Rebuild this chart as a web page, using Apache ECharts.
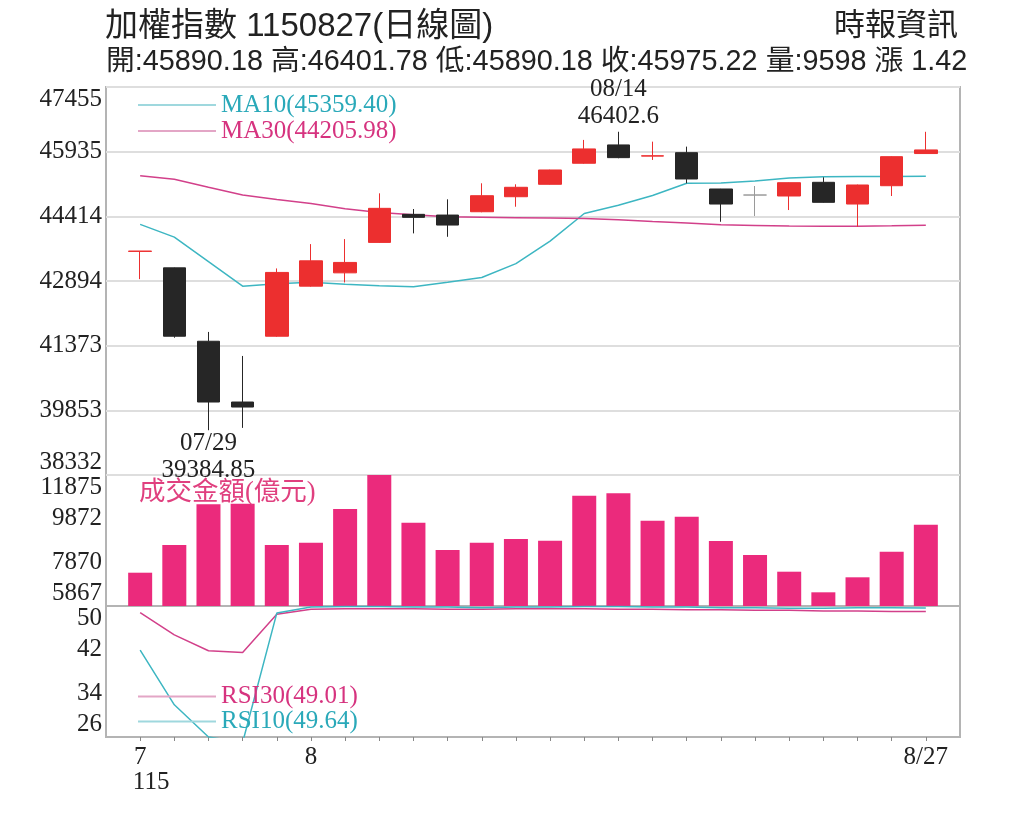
<!DOCTYPE html>
<html>
<head>
<meta charset="utf-8">
<script src="https://cdn.jsdelivr.net/npm/echarts@6/dist/echarts.min.js"></script>
<style>
    html, body { margin: 0; padding: 0; background: #fff; }
    #main { width: 1024px; height: 820px; }
</style>
</head>
<body>
<div id="main"></div>
<script>
// 日期 (115年 7/27 ~ 8/27)
const dates = ['07/27', '07/28', '07/29', '07/30', '07/31',
    '08/03', '08/04', '08/05', '08/06', '08/07',
    '08/10', '08/11', '08/12', '08/13', '08/14',
    '08/17', '08/18', '08/19', '08/20', '08/21',
    '08/24', '08/25', '08/26', '08/27'];

const opens = [43590, 43203, 41477, 40048, 41595, 42772, 43085, 43801, 44461, 44444,
    44522, 44875, 45167, 45662, 46093, 45830, 45911, 45057, 44915, 44892,
    45214, 44703, 45134, 45890.18];
const closes = [43597, 41595, 40048, 39930, 43095, 43368, 43330, 44602, 44390, 44209,
    44899, 45097, 45504, 45999, 45794, 45838, 45292, 44703, 44915, 45205,
    44743, 45151, 45817, 45975.22];
const lows = [42937, 41560, 39384.85, 39440, 41580, 42760, 42859, 43790, 44013, 43933,
    44510, 44640, 45160, 45650, 45780, 45740, 45191, 44287, 44421, 44562,
    44735, 44169, 44892, 45890.18];
const highs = [43597, 43210, 41696, 41131, 43189, 43761, 43879, 44955, 44586, 44814,
    45191, 45167, 45510, 46211, 46402.6, 46170, 46053, 45060, 45127, 45210,
    45332, 45160, 45825, 46401.78];

const ma10 = [44225, 43926, 43349, 42772, 42831, 42866, 42819, 42784, 42760, 42866,
    42977, 43302, 43832, 44480, 44673, 44904, 45191, 45198, 45245, 45316,
    45346, 45350, 45352, 45359.40];
const ma30 = [45370, 45285, 45097, 44915, 44809, 44713, 44595, 44503, 44451, 44402,
    44393, 44383, 44374, 44364, 44334, 44291, 44256, 44215, 44200, 44185,
    44178, 44180, 44192, 44205.98];

// 成交金額(億元)
const volumes = [7394, 8664, 10531, 10560, 8664, 8770, 10315, 11880, 9687, 8435,
    8770, 8940, 8862, 10925, 11035, 9779, 9962, 8848, 8206, 7440,
    6495, 7183, 8357, 9598];

const rsi10 = [41.9, 31.9, 26.0, 25.0, 48.7, 49.8, 49.9, 49.9, 49.8, 49.8,
    49.7, 49.8, 49.8, 49.9, 49.9, 49.8, 49.8, 49.7, 49.7, 49.6,
    49.6, 49.7, 49.7, 49.64];
const rsi30 = [48.8, 44.7, 41.8, 41.5, 48.5, 49.4, 49.5, 49.5, 49.5, 49.4,
    49.4, 49.5, 49.5, 49.5, 49.4, 49.4, 49.3, 49.3, 49.2, 49.2,
    49.1, 49.1, 49.0, 49.01];

const priceTicks = ['38332', '39853', '41373', '42894', '44414', '45935', '47455'];
const volTicks = ['5867', '7870', '9872', '11875'];
const rsiTicks = ['26', '34', '42', '50'];
const xTickIdx = [0, 5, 23];
const xTickText = ['7\n{y|115}', '8', '8/27'];
const change = '1.42';

const serif = "'Liberation Serif', 'Noto Sans CJK TC', serif";
const sans = "'Liberation Sans', 'Noto Sans CJK TC', sans-serif";
const UP = '#ec2f2f';
const DOWN = '#262626';
const CYAN = '#3db6c2';
const PINK = '#d2408a';
const BAR = '#eb2a7c';

const n = dates.length - 1;
const last = arr => arr[arr.length - 1];
const idx = dates.map((d, i) => i);
const pair = arr => arr.map((v, i) => [i, v]);

const grids = [
    {left: 106, right: 64, top: 87, height: 388},
    {left: 106, right: 64, top: 475, height: 131},
    {left: 106, right: 64, top: 606, height: 131}
].map(g => Object.assign(g, {show: true, borderColor: '#b4b4b4', borderWidth: 2}));

const tickAxis = (gridIndex, ticks, split) => ({
    type: 'value', gridIndex: gridIndex, position: 'left',
    min: 0, max: ticks.length - 1, interval: 1,
    axisLine: {show: false}, axisTick: {show: false},
    axisLabel: {
        formatter: v => ticks[v], fontFamily: serif, fontSize: 25, color: '#222', margin: 4,
        verticalAlignMaxLabel: 'top', verticalAlignMinLabel: 'bottom'
    },
    splitLine: {show: split, lineStyle: {color: '#dedede', width: 2}}
});
const dataAxis = (gridIndex, ticks) => ({
    type: 'value', gridIndex: gridIndex, show: false,
    min: +ticks[0], max: +last(ticks), splitLine: {show: false}
});

const xAxis = [0, 1, 2].map(g => ({
    type: 'value', gridIndex: g, min: -1, max: n + 1, show: g === 2,
    splitLine: {show: false},
    axisLine: {lineStyle: {color: '#b4b4b4', width: 2}},
    axisTick: {customValues: idx, length: 4, lineStyle: {color: '#888'}},
    axisLabel: {
        customValues: xTickIdx,
        formatter: v => xTickText[xTickIdx.indexOf(v)],
        fontFamily: serif, fontSize: 25, color: '#222', margin: 8, lineHeight: 25,
        rich: {y: {fontFamily: serif, fontSize: 25, color: '#222', lineHeight: 25, padding: [0, 0, 0, 22]}}
    }
}));

const chart = echarts.init(document.getElementById('main'));
chart.setOption({
    animation: false,
    backgroundColor: '#fff',
    title: [
        {
            text: '加權指數 1150827(日線圖)', left: 105, top: 10, padding: 0,
            textStyle: {fontFamily: sans, fontSize: 33, fontWeight: 'normal', color: '#222'}
        }, {
            text: `開:${opens[n].toFixed(2)} 高:${highs[n].toFixed(2)} 低:${lows[n].toFixed(2)} 收:${closes[n].toFixed(2)} 量:${volumes[n]} 漲 ${change}`,
            left: 106, top: 48, padding: 0,
            textStyle: {fontFamily: sans, fontSize: 28.8, fontWeight: 'normal', color: '#222'}
        }, {
            text: '時報資訊', right: 66, top: 11, padding: 0,
            textStyle: {fontFamily: sans, fontSize: 31, fontWeight: 'normal', color: '#222'}
        }
    ],
    legend: [
        {
            left: 138, top: 92, orient: 'vertical', itemGap: 0, padding: 0,
            itemWidth: 78, itemHeight: 2, icon: 'rect', selectedMode: false,
            formatter: name => name === 'MA10' ? `MA10(${last(ma10).toFixed(2)})` : `MA30(${last(ma30).toFixed(2)})`,
            data: [
                {name: 'MA10', itemStyle: {color: '#9fd8de'}, textStyle: {color: '#2aa9b9'}},
                {name: 'MA30', itemStyle: {color: '#e3a6c6'}, textStyle: {color: '#d6337f'}}
            ],
            textStyle: {fontFamily: serif, fontSize: 25, lineHeight: 26}
        }, {
            left: 138, top: 684, orient: 'vertical', itemGap: 0, padding: 0,
            itemWidth: 78, itemHeight: 2, icon: 'rect', selectedMode: false,
            formatter: name => name === 'RSI10' ? `RSI10(${last(rsi10).toFixed(2)})` : `RSI30(${last(rsi30).toFixed(2)})`,
            data: [
                {name: 'RSI30', itemStyle: {color: '#e3a6c6'}, textStyle: {color: '#d6337f'}},
                {name: 'RSI10', itemStyle: {color: '#9fd8de'}, textStyle: {color: '#2aa9b9'}}
            ],
            textStyle: {fontFamily: serif, fontSize: 25, lineHeight: 25}
        }, {
            left: 134, top: 480, padding: 0, itemWidth: 0, itemHeight: 0, selectedMode: false,
            data: [{name: '成交金額(億元)', textStyle: {color: '#e0407f'}}],
            textStyle: {fontFamily: serif, fontSize: 26.5}
        }
    ],
    grid: grids,
    xAxis: xAxis,
    yAxis: [
        dataAxis(0, priceTicks), tickAxis(0, priceTicks, true),
        dataAxis(1, volTicks), tickAxis(1, volTicks, false),
        dataAxis(2, rsiTicks), tickAxis(2, rsiTicks, false)
    ],
    series: [
        {
            name: 'K', type: 'candlestick', xAxisIndex: 0, yAxisIndex: 0, barWidth: 23,
            data: dates.map((d, i) => [i, opens[i], closes[i], lows[i], highs[i]]),
            itemStyle: {
                color: UP, color0: DOWN, borderColor: UP, borderColor0: DOWN,
                borderColorDoji: '#9a9a9a', borderWidth: 1
            },
            markPoint: {
                symbol: 'circle', symbolSize: 0,
                label: {
                    show: true, fontFamily: serif, fontSize: 25, color: '#222', lineHeight: 27,
                    formatter: p => {
                        const i = p.name === 'low' ? lows.indexOf(p.value) : highs.indexOf(p.value);
                        return dates[i] + '\n' + p.value;
                    }
                },
                data: [
                    {name: 'high', type: 'max', valueDim: 'highest', label: {position: 'top', distance: 2}},
                    {name: 'low', type: 'min', valueDim: 'lowest', label: {position: 'bottom', distance: 0}}
                ]
            }
        },
        {
            name: 'MA10', type: 'line', xAxisIndex: 0, yAxisIndex: 0, data: pair(ma10),
            symbol: 'none', lineStyle: {color: CYAN, width: 1.5}, itemStyle: {color: CYAN}, z: 1
        },
        {
            name: 'MA30', type: 'line', xAxisIndex: 0, yAxisIndex: 0, data: pair(ma30),
            symbol: 'none', lineStyle: {color: PINK, width: 1.5}, itemStyle: {color: PINK}, z: 1
        },
        {
            name: '成交金額(億元)', type: 'bar', xAxisIndex: 1, yAxisIndex: 2, data: pair(volumes),
            barWidth: 24, itemStyle: {color: BAR}
        },
        {
            name: 'RSI30', type: 'line', xAxisIndex: 2, yAxisIndex: 4, data: pair(rsi30),
            symbol: 'none', lineStyle: {color: PINK, width: 1.5}, itemStyle: {color: PINK}
        },
        {
            name: 'RSI10', type: 'line', xAxisIndex: 2, yAxisIndex: 4, data: pair(rsi10),
            symbol: 'none', lineStyle: {color: CYAN, width: 1.5}, itemStyle: {color: CYAN}
        }
    ]
});
</script>
</body>
</html>
